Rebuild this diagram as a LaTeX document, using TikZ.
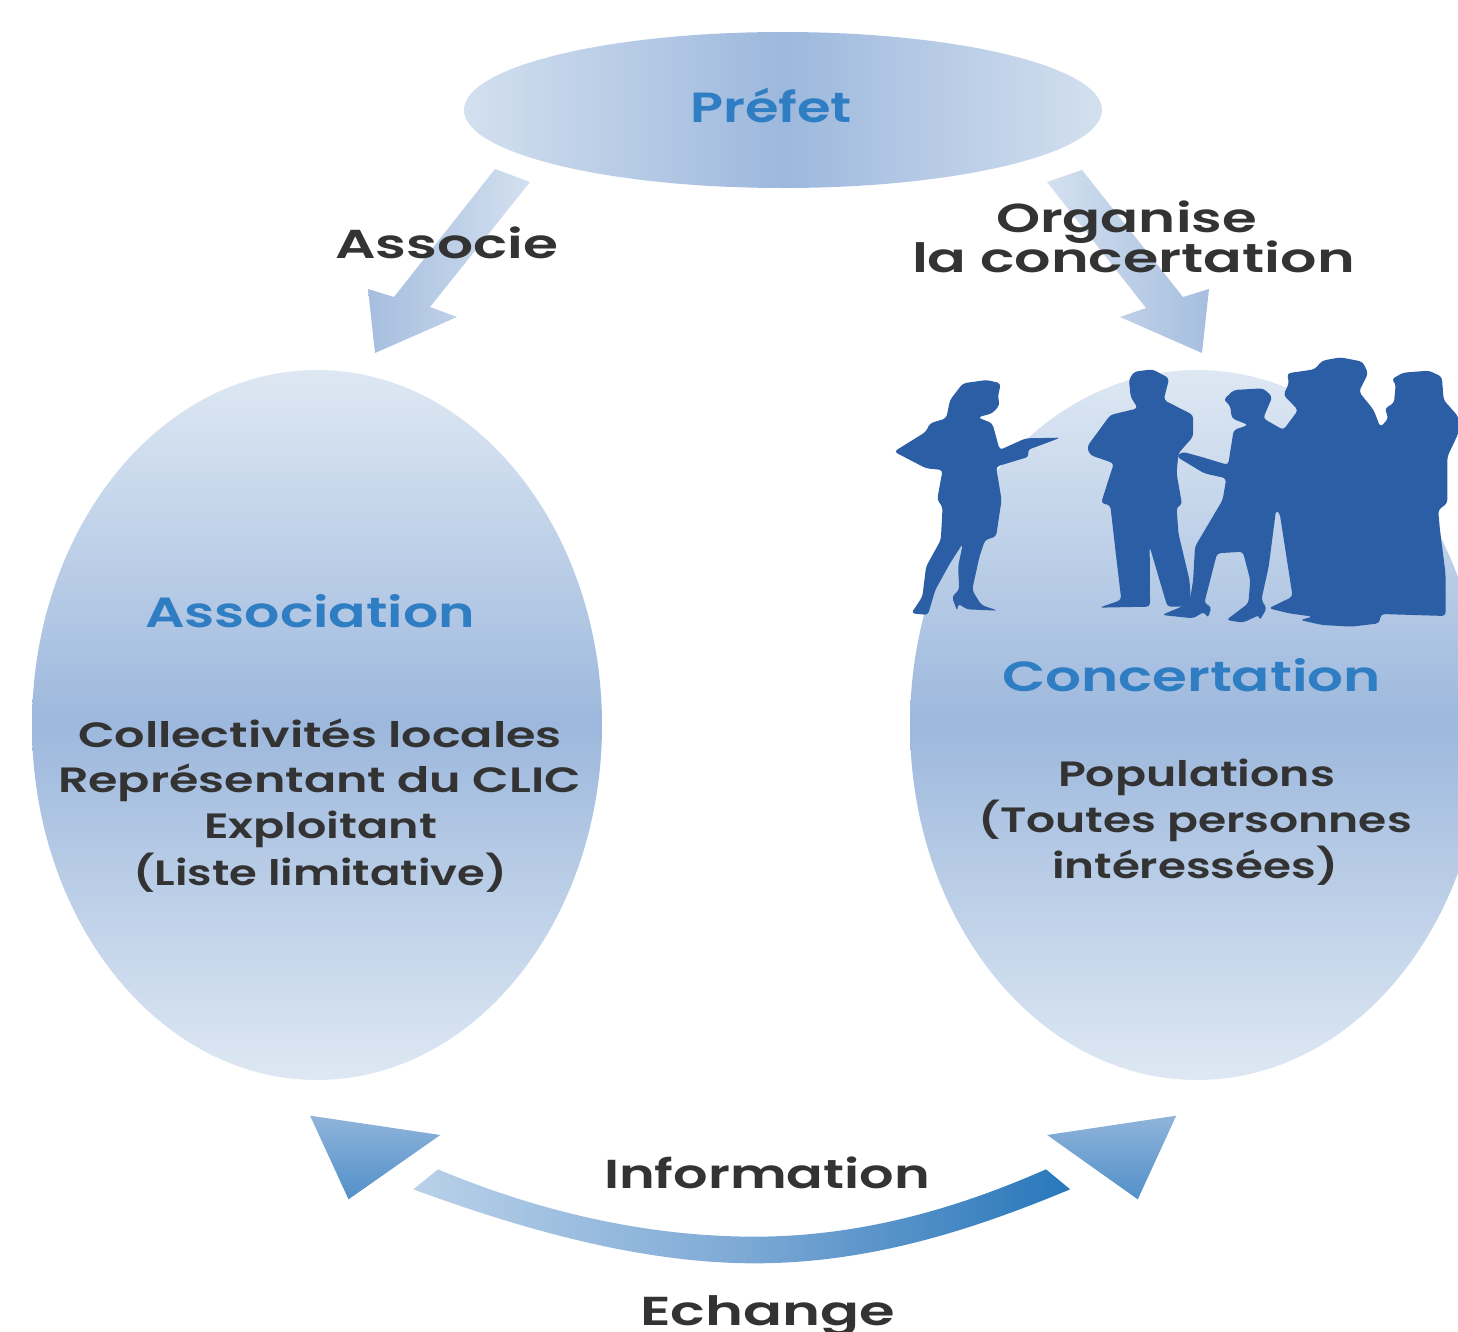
\documentclass[tikz,border=0pt]{standalone}
\usepackage{fontspec}
\usepackage{graphicx}
\setmainfont{Poppins}
\newfontfamily\lblfont{Poppins SemiBold}
\newfontfamily\ttlfont{Poppins SemiBold}
\definecolor{ink}{HTML}{333333}
\definecolor{bluet}{HTML}{2F7DC2}
\definecolor{sil}{HTML}{2B5EA5}
\definecolor{elight}{HTML}{DEE8F3}
\definecolor{emid}{HTML}{9DB8DD}
\newcommand\fitw[2]{\resizebox{#1}{\height}{#2}}
\tikzset{
  lbl/.style={anchor=base west,inner sep=0pt,outer sep=0pt,text=ink,font=\lblfont\fontsize{20}{24}\selectfont},
  lblb/.style={lbl,font=\lblfont\fontsize{23}{27}\selectfont},
  ttl/.style={anchor=base west,inner sep=0pt,outer sep=0pt,text=bluet,font=\ttlfont\fontsize{24}{28}\selectfont},
  blob/.style={draw=none,top color=elight,bottom color=elight,middle color=emid},
  tri/.style={draw=none,top color=tritop,bottom color=tribot},
  people/.style={fill=sil,draw=none,rounded corners=2pt}
}
\definecolor{tritop}{HTML}{90B4DB}
\definecolor{tribot}{HTML}{5190C8}
\definecolor{arrl}{HTML}{D3E0EF}
\definecolor{arrd}{HTML}{A6BEDF}
\definecolor{arcl}{HTML}{B9D1E9}
\definecolor{arcd}{HTML}{2877BA}
\begin{document}
\begin{tikzpicture}[x=0.02cm,y=-0.02cm]
\useasboundingbox (0,0) rectangle (1458,1332);
\clip (0,0) rectangle (1458,1332);
% ellipses
\shade[blob] (317,725) ellipse [x radius=285,y radius=355];
\shade[blob] (1197,725) ellipse [x radius=287,y radius=355];
\shade[draw=none,left color=arrl,right color=arrl,middle color=emid] (783,110) ellipse [x radius=319,y radius=78];
% down arrows
\shade[draw=none,shading angle=-40,left color=arrd,right color=arrl]
  (495,169) -- (530,182) -- (430,307) -- (457,317) -- (375,353) -- (368,289) -- (394,297) -- cycle;
\shade[draw=none,shading angle=40,left color=arrl,right color=arrd]
  (1082,170) -- (1047,182) -- (1146,308) -- (1120,317) -- (1202,353) -- (1209,289) -- (1183,297) -- cycle;
% people
\begin{scope}[shift={(880,340)},x=0.007372cm,y=-0.006667cm]
\fill[people] (38,335) -- (125,275) -- (135,250) -- (180,235) -- (190,180) -- (225,130) -- (290,120) -- (328,130) -- (320,170) -- (325,195) -- (305,220) -- (265,232) -- (305,250) -- (325,330) -- (395,295) -- (490,293) -- (430,318) -- (400,330) -- (405,350) -- (315,380) -- (330,480) -- (315,590) -- (285,600) -- (270,650) -- (250,750) -- (275,795) -- (320,812) -- (235,808) -- (212,790) -- (210,815) -- (195,770) -- (215,750) -- (212,680) -- (225,610) -- (190,670) -- (150,750) -- (130,825) -- (85,820) -- (115,770) -- (125,680) -- (165,600) -- (170,500) -- (155,480) -- (170,390) -- (125,385) -- cycle;
\fill[people] (675,120) -- (690,95) -- (740,88) -- (785,115) -- (770,180) -- (850,225) -- (850,290) -- (810,340) -- (805,400) -- (820,495) -- (805,500) -- (810,580) -- (840,720) -- (845,800) -- (780,800) -- (732,620) -- (733,800) -- (595,803) -- (655,780) -- (640,640) -- (625,495) -- (600,490) -- (620,420) -- (635,370) -- (570,345) -- (562,320) -- (625,225) -- (700,205) -- (680,170) -- (678,140) -- cycle;
\fill[people] (932,180) -- (960,150) -- (1040,145) -- (1065,170) -- (1040,235) -- (1095,270) -- (1135,210) -- (1095,165) -- (1110,130) -- (1105,100) -- (1180,88) -- (1200,62) -- (1250,52) -- (1310,65) -- (1325,100) -- (1300,155) -- (1340,210) -- (1358,262) -- (1380,235) -- (1370,205) -- (1395,190) -- (1400,130) -- (1388,118) -- (1420,98) -- (1490,92) -- (1525,110) -- (1530,180) -- (1570,230) -- (1570,280) -- (1540,350) -- (1540,490) -- (1515,510) -- (1520,570) -- (1535,700) -- (1535,828) -- (1360,822) -- (1355,850) -- (1280,860) -- (1200,855) -- (1140,840) -- (1175,830) -- (1110,820) -- (1055,805) -- (1120,770) -- (1085,520) -- (1075,510) -- (1055,680) -- (1035,780) -- (1050,805) -- (1030,842) -- (1030,825) -- (985,848) -- (940,840) -- (1000,790) -- (1005,720) -- (985,635) -- (915,640) -- (880,790) -- (900,800) -- (890,835) -- (880,815) -- (850,835) -- (765,825) -- (840,790) -- (850,720) -- (855,620) -- (930,480) -- (940,415) -- (880,400) -- (805,350) -- (820,335) -- (870,350) -- (945,375) -- (960,270) -- (1000,255) -- (955,235) -- (950,195) -- cycle;
\end{scope}
% bottom arc and triangles
\begin{scope}[shift={(290,1100)},x=0.01148cm,y=-0.006667cm]
\shade[draw=none,left color=arcl,right color=arcd,middle color=tritop!70!tribot]
  (215,268) .. controls (400,385) and (610,490) .. (810,490) .. controls (1010,490) and (1190,390) .. (1360,268) -- (1318,208) .. controls (1170,320) and (1000,410) .. (810,410) .. controls (610,410) and (420,325) .. (258,208) -- cycle;
\shade[tri] (35,47) -- (262,105) -- (102,298) -- cycle;
\shade[tri] (1545,47) -- (1320,105) -- (1478,298) -- cycle;
\end{scope}
% texts
\node[ttl] (prefet) at (690,122) {\fitw{3.24cm}{Préfet}};
\node[lblb] (associe) at (335,258) {\fitw{4.46cm}{Associe}};
\node[lblb] (organise) at (996,232) {\fitw{5.22cm}{Organise}};
\node[lblb] (laconc) at (912,272) {\fitw{8.86cm}{la concertation}};
\node[ttl] (assoc) at (145,627) {\fitw{6.6cm}{Association}};
\node[lbl] (coll) at (78,747) {\fitw{9.68cm}{Collectivités locales}};
\node[lbl] (repr) at (58,792) {\fitw{10.46cm}{Représentant du CLIC}};
\node[lbl] (expl) at (204,838) {\fitw{4.66cm}{Exploitant}};
\node[lbl] (liste) at (133,885) {\fitw{7.48cm}{(Liste limitative)}};
\node[ttl] (conc) at (1002,691) {\fitw{7.58cm}{Concertation}};
\node[lbl] (pop) at (1058,786) {\fitw{5.54cm}{Populations}};
\node[lbl] (tout) at (978,832) {\fitw{8.68cm}{(Toutes personnes}};
\node[lbl] (inter) at (1052,878) {\fitw{5.72cm}{intéressées)}};
\node[lblb] (info) at (604,1188) {\fitw{6.52cm}{Information}};
\node[lblb] (echange) at (640,1325) {\fitw{5.1cm}{Echange}};
\end{tikzpicture}
\end{document}
